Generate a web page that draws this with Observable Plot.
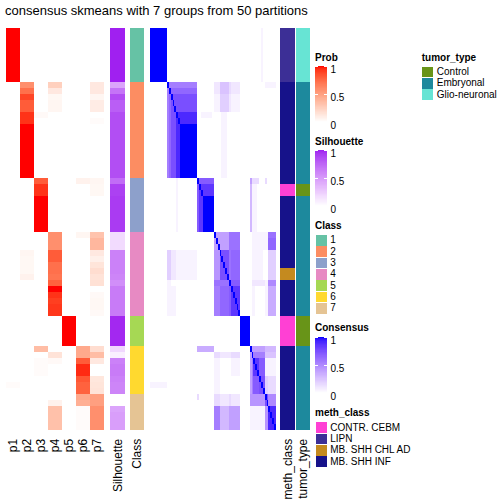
<!DOCTYPE html>
<html><head><meta charset="utf-8">
<script src="https://cdn.jsdelivr.net/npm/d3@7"></script>
<script src="https://cdn.jsdelivr.net/npm/@observablehq/plot@0.6"></script>
<style>
body{margin:0;background:#fff;font-family:"Liberation Sans",Arial,Helvetica,sans-serif;}
#root{position:relative;width:504px;height:504px;overflow:hidden;background:#fff;}
.abs{position:absolute;}
.ttl{position:absolute;font-weight:bold;font-size:10px;line-height:10px;white-space:nowrap;color:#000;}
.item{position:absolute;display:flex;align-items:center;font-size:10px;line-height:10px;white-space:nowrap;}
.sq{width:11px;height:10.7px;margin-right:3.5px;}
svg{overflow:visible;}
</style></head><body><div id="root"></div>
<script>
// ---------------- data ----------------
const titleText = "consensus skmeans with 7 groups from 50 partitions";
const probCols = ["p1","p2","p3","p4","p5","p6","p7"];
// membership probabilities per sample (67 samples, top to bottom), grouped by class blocks
const p1 = [1,1,1,1,1,1,1,1,1,
  0,0,0,0,0,0,0,0,0,0,0,0,0,0,0,0,
  0,0,0,0,0,0,0,0,0,
  0,0,0,0,0,0,0,0,0,0,0,0,0,0,
  0,0,0,0,0,
  0,0,0,0,0,0,0.02,0,
  0,0,0,0,0,0];
const p2 = [0,0,0,0,0,0,0,0,0,
  0.58,0.72,0.88,0.80,0.80,0.93,0.93,1,1,1,1,1,1,1,1,1,
  0,0,0,0,0,0,0,0,0,
  0,0,0,0.05,0.04,0.04,0.04,0.07,0,0,0,0,0,0,
  0,0,0,0,0,
  0,0,0,0,0,0,0,0,
  0,0,0,0,0,0];
const p3 = [0,0,0,0,0,0,0,0,0,
  0,0,0,0,0,0.03,0,0,0,0,0,0,0,0,0,0,
  0.8,0.93,0.93,1,1,1,1,1,1,
  0,0,0,0,0,0,0,0,0,0,0,0,0,0,
  0,0,0,0,0,
  0.35,0,0.02,0.02,0.02,0,0,0,
  0,0,0,0,0,0];
const p4 = [0,0,0,0,0,0,0,0,0,
  0.25,0.12,0.04,0.05,0.05,0,0,0,0,0,0,0,0,0,0,0,
  0,0,0,0,0,0,0,0,0,
  0.58,0.58,0.58,0.8,0.8,0.72,0.72,0.7,0.78,1,0.93,0.9,0.92,0.92,
  0,0,0,0,0,
  0,0.15,0.03,0,0,0,0,0,
  0,0.07,0.33,0.33,0.33,0.33];
const p5 = [0,0,0,0,0,0,0,0,0,
  0,0,0,0,0,0,0,0,0,0,0,0,0,0,0,0,
  0,0,0,0,0,0,0,0,0,
  0,0,0,0,0,0,0,0,0,0,0,0,0,0,
  1,1,1,1,1,
  0,0,0,0,0,0,0,0,
  0,0,0,0,0,0];
const p6 = [0,0,0,0,0,0,0,0,0,
  0,0,0,0,0,0,0,0,0,0,0,0,0,0,0,0,
  0.07,0,0,0,0,0,0,0,0,
  0.05,0,0,0,0,0,0,0,0,0,0,0,0,0,
  0,0,0,0,0,
  0.45,0.45,0.8,0.95,0.95,0.82,0.78,0.78,
  0.45,0.42,0.02,0.02,0.02,0.02];
const p7 = [0,0,0,0,0,0,0,0,0,
  0.12,0.12,0.05,0.10,0.10,0,0.02,0,0,0,0,0,0,0,0,0,
  0.05,0.04,0.04,0,0,0,0,0,0,
  0.32,0.38,0.38,0.12,0.08,0.14,0.18,0.15,0.16,0,0.03,0.04,0.04,0.03,
  0,0,0,0,0,
  0.18,0.35,0.12,0,0,0.13,0.14,0.15,
  0.5,0.5,0.58,0.58,0.58,0.58];
const silhouette = [1,1,1,1,1,1,1,1,1,
  0.45,0.68,0.85,0.78,0.78,0.85,0.85,0.85,0.85,0.85,0.85,0.85,0.85,0.85,0.85,0.85,
  0.72,0.9,0.9,0.92,0.92,0.92,0.92,0.92,0.92,
  0.18,0.18,0.18,0.62,0.62,0.62,0.62,0.6,0.56,0.65,0.65,0.65,0.65,0.65,
  0.98,0.98,0.98,0.98,0.98,
  0.2,0.08,0.62,0.65,0.65,0.62,0.6,0.6,
  0,0,0.45,0.48,0.48,0.48];
const classOfSample = "111111111"+"2222222222222222"+"333333333"+"44444444444444"+"55555"+"66666666"+"777777";
const classNames = ["1","2","3","4","5","6","7"];
const classColors = ["#66C2A5","#FC8D62","#8DA0CB","#E78AC3","#A6D854","#FFD92F","#E5C494"];
// meth_class codes: L = LIPN, I = MB. SHH INF, C = CONTR. CEBM, A = MB. SHH CHL AD
const methCodes = "LLLLLLLLL"+"IIIIIIIIIIIIIIII"+"ICCIIIIII"+"IIIIIIAAIIIIII"+"CCCCC"+"IIIIIIII"+"IIIIII";
const methCodeNames = {C:"CONTR. CEBM", L:"LIPN", A:"MB. SHH CHL AD", I:"MB. SHH INF"};
const methNames = ["CONTR. CEBM","LIPN","MB. SHH CHL AD","MB. SHH INF"];
const methColors = ["#FF40D4","#3C2F96","#C48A1F","#16128A"];
// tumor_type codes: G = Glio-neuronal, E = Embryonal, C = Control
const tumorCodes = "GGGGGGGGG"+"EEEEEEEEEEEEEEEE"+"ECCEEEEEE"+"EEEEEEEEEEEEEE"+"CCCCC"+"EEEEEEEE"+"EEEEEE";
const tumorCodeNames = {C:"Control", E:"Embryonal", G:"Glio-neuronal"};
const tumorNames = ["Control","Embryonal","Glio-neuronal"];
const tumorColors = ["#689418","#1D899D","#67E4D4"];
// consensus matrix rows; one char per cell, level/20 with "0123456789abcdefghijk"
const consensusLevels = "0123456789abcdefghijk";
const consensusRows = [
"kkkkkkkkk 0000000000000000 000000000 00000000000000 00000 00000010 000000",
"kkkkkkkkk 0000000000000000 000000000 00000000000000 00000 00000010 000000",
"kkkkkkkkk 0000000000000000 000000000 00000000000000 00000 00000010 000000",
"kkkkkkkkk 0000000000000000 000000000 00000000000000 00000 00000010 000000",
"kkkkkkkkk 0000000000000000 000000000 00000000000000 00000 00000010 000000",
"kkkkkkkkk 0000000000000000 000000000 00000000000000 00000 00000010 000000",
"kkkkkkkkk 0000000000000000 000000000 00000000000000 00000 00000010 000000",
"kkkkkkkkk 0000000000000000 000000000 00000000000000 00000 00000010 000000",
"kkkkkkkkk 0000000000000000 000000000 00000000000000 00000 00000010 000000",
"000000000 kbbbbbbbbbbbbbbb 000000000 22255555322222 00000 00000000 111111",
"000000000 bkdddddddddddddd 000000000 22255555322222 00000 00000000 000000",
"000000000 bdkfffffffffffff 000000000 11144444211111 00000 00000000 000000",
"000000000 bdfkffffffffffff 000000000 11144444211111 00000 00000000 000000",
"000000000 bdffkfffffffffff 000000000 11144444211111 00000 00000000 000000",
"000000000 bdfffkiiiiiiiiii 001111110 00001110000000 00000 00000000 000000",
"000000000 bdfffikiiiiiiiii 000000000 00001110000000 00000 00000000 000000",
"000000000 bdfffiikkkkkkkkk 000000000 00001110000000 00000 00000000 000000",
"000000000 bdfffiikkkkkkkkk 000000000 00001110000000 00000 00000000 000000",
"000000000 bdfffiikkkkkkkkk 000000000 00001110000000 00000 00000000 000000",
"000000000 bdfffiikkkkkkkkk 000000000 00001110000000 00000 00000000 000000",
"000000000 bdfffiikkkkkkkkk 000000000 00001110000000 00000 00000000 000000",
"000000000 bdfffiikkkkkkkkk 000000000 00001110000000 00000 00000000 000000",
"000000000 bdfffiikkkkkkkkk 000000000 00001110000000 00000 00000000 000000",
"000000000 bdfffiikkkkkkkkk 000000000 00001110000000 00000 00000000 000000",
"000000000 bdfffiikkkkkkkkk 000000000 00001110000000 00000 00000000 000000",
"000000000 0000010000000000 keeeeeeee 00000000000000 00000 83333000 300000",
"000000000 0000010000000000 ekhhhhhhh 00000000000000 00000 61110000 000000",
"000000000 0000010000000000 ehkhhhhhh 00000000000000 00000 61110000 000000",
"000000000 0000010000000000 ehhkkkkkk 00000000000000 00000 61110000 000000",
"000000000 0000010000000000 ehhkkkkkk 00000000000000 00000 61110000 000000",
"000000000 0000010000000000 ehhkkkkkk 00000000000000 00000 61110000 000000",
"000000000 0000010000000000 ehhkkkkkk 00000000000000 00000 61110000 000000",
"000000000 0000010000000000 ehhkkkkkk 00000000000000 00000 61110000 000000",
"000000000 0000010000000000 ehhkkkkkk 00000000000000 00000 61110000 000000",
"000000000 0000000000000000 000000000 k8888888cccccc 00000 01111111 11cccc",
"000000000 0000000000000000 000000000 8k888888cccccc 00000 01111111 11dddd",
"000000000 0000000000000000 000000000 88k88888cccccc 00000 01111111 11dddd",
"000000000 4422211111111111 000000000 999kffffcddddd 00000 01111110 004444",
"000000000 4422211111111111 000000000 999fkfffcddddd 00000 01111110 004444",
"000000000 4422211111111111 000000000 999ffkffcddddd 00000 01111110 004444",
"000000000 4422211111111111 000000000 999fffkfcddddd 00000 01111110 004444",
"000000000 4422211111111111 000000000 999ffffkcddddd 00000 01111110 004444",
"000000000 1100000000000000 000000000 cccccccckeeeee 00000 02222222 11aaaa",
"000000000 1111100000000000 000000000 bbbdddddekhhhh 00000 01100000 117777",
"000000000 1111100000000000 000000000 bbbdddddehkhhh 00000 01100000 117777",
"000000000 1111100000000000 000000000 bbbdddddehhkhh 00000 01100000 117777",
"000000000 1111100000000000 000000000 bbbdddddehhhkh 00000 01100000 117777",
"000000000 1111100000000000 000000000 bbbdddddehhhhk 00000 01100000 117777",
"000000000 0000000000000000 000000000 00000000000000 kkkkk 00000000 000000",
"000000000 0000000000000000 000000000 00000000000000 kkkkk 00000000 000000",
"000000000 0000000000000000 000000000 00000000000000 kkkkk 00000000 000000",
"000000000 0000000000000000 000000000 00000000000000 kkkkk 00000000 000000",
"000000000 0000000000000000 000000000 00000000000000 kkkkk 00000000 000000",
"000000000 0000000000000000 777777777 00000000000000 00000 k8888888 666666",
"000000000 0000000000000000 000000000 33322222233333 00000 8kbbbbbb 555555",
"000000000 0000000000000000 000000000 11100000011111 00000 8bkhheee 111111",
"000000000 0000000000000000 000000000 11100000011111 00000 8bhkheee 111111",
"000000000 0000000000000000 000000000 11100000011111 00000 8bhhkeee 111111",
"000000000 0000000000000000 000000000 11100000000000 00000 8beeekff 443333",
"111111111 0000000000000000 000000000 11100000000000 00000 8beeefkf 443333",
"000000000 0000000000000000 000000000 11100000000000 00000 8beeeffk 443333",
"000000000 0000000000000000 300000000 33322222322222 00000 99999999 kfaaaa",
"000000000 0000000000000000 000000000 33322222322222 00000 99999999 fkaaaa",
"000000000 0000000000000000 000000000 bbb66666888888 00000 11111111 99kiii",
"000000000 0000000000000000 000000000 bbb66666888888 00000 11111111 99ikii",
"000000000 0000000000000000 000000000 bbb66666888888 00000 11111111 99iiki",
"000000000 0000000000000000 000000000 bbb66666888888 00000 11111111 99iiik"
];

// ---------------- build ----------------
const FONT = '"Liberation Sans", Arial, Helvetica, sans-serif';
const N = silhouette.length;
const samples = d3.range(N);
const root = document.getElementById("root");
const HM_TOP = 22.7, HM_H = 412.3, MB = 69;

function place(el, left, top) {
  const d = document.createElement("div");
  d.className = "abs"; d.style.left = left + "px"; d.style.top = top + "px";
  d.appendChild(el); root.appendChild(d); return d;
}
const lab = d3.interpolateLab;

function strip(cols, data, color, width, showAxis) {
  return Plot.plot({
    width, height: HM_H + MB, marginTop: 0, marginBottom: MB, marginLeft: 0, marginRight: 0,
    x: {domain: cols, padding: 0, tickSize: 0, tickRotate: -90, tickPadding: 3, label: null, axis: showAxis ? "bottom" : null},
    y: {domain: samples, padding: 0, axis: null},
    color,
    style: {fontSize: "12px", fontFamily: FONT, background: "transparent", overflow: "visible", color: "#000"},
    marks: [Plot.cell(data, {x: "col", y: "sample", fill: "v", inset: 0, shapeRendering: "crispEdges"})]
  });
}

// title
const t = document.createElement("div");
t.textContent = titleText;
t.style.cssText = "position:absolute;left:5px;top:4px;font-size:13px;line-height:13px;white-space:nowrap;";
root.appendChild(t);

// probability heatmap
const probArrays = [p1,p2,p3,p4,p5,p6,p7];
const probData = [];
probCols.forEach((c, k) => samples.forEach(i => probData.push({sample: i, col: c, v: probArrays[k][i]})));
place(strip(probCols, probData, {type: "linear", domain: [0, 1], range: ["white", "red"], interpolate: lab}, 100, true), 5, HM_TOP);

// silhouette
const silData = samples.map(i => ({sample: i, col: "Silhouette", v: silhouette[i]}));
place(strip(["Silhouette"], silData, {type: "linear", domain: [0, 1], range: ["white", "#A020F0"], interpolate: lab}, 15, true), 110, HM_TOP);

// class
const classData = samples.map(i => ({sample: i, col: "Class", v: classOfSample[i]}));
place(strip(["Class"], classData, {type: "ordinal", domain: classNames, range: classColors}, 14, true), 130, HM_TOP);

// consensus
const consData = [];
consensusRows.forEach((row, i) => {
  const s = row.replace(/ /g, "");
  for (let j = 0; j < s.length; j++) consData.push({sample: i, col: j, v: consensusLevels.indexOf(s[j]) / 20});
});
place(strip(samples, consData, {type: "linear", domain: [0, 1], range: ["white", "blue"], interpolate: lab}, 126, false), 150, HM_TOP);

// meth_class
const methData = samples.map(i => ({sample: i, col: "meth_class", v: methCodeNames[methCodes[i]]}));
place(strip(["meth_class"], methData, {type: "ordinal", domain: methNames, range: methColors}, 15, true), 280, HM_TOP);

// tumor_type
const tumorData = samples.map(i => ({sample: i, col: "tumor_type", v: tumorCodeNames[tumorCodes[i]]}));
place(strip(["tumor_type"], tumorData, {type: "ordinal", domain: tumorNames, range: tumorColors}, 14, true), 296, HM_TOP);

// ---------------- legends ----------------
function title(text, left, top) {
  const d = document.createElement("div"); d.className = "ttl";
  d.textContent = text; d.style.left = left + "px"; d.style.top = top + "px"; root.appendChild(d);
}
const gradSteps = d3.range(0, 100).map(k => ({a: k / 100, b: (k + 1) / 100}));
function colorbar(endColor, top) {
  const svg = Plot.plot({
    width: 45, height: 56, marginTop: 0, marginBottom: 0, marginLeft: 0, marginRight: 33,
    x: {domain: [0, 1], axis: null},
    y: {domain: [0, 1], axis: null},
    color: {type: "linear", domain: [0, 1], range: ["white", endColor], interpolate: lab},
    style: {fontSize: "10px", fontFamily: FONT, background: "transparent", overflow: "visible", color: "#000"},
    marks: [
      Plot.rect(gradSteps, {x1: 0, x2: 1, y1: "a", y2: "b", fill: d => (d.a + d.b) / 2, shapeRendering: "crispEdges"}),
      Plot.ruleY([0, 0.5, 1], {x1: 0, x2: 0.25, stroke: "white", strokeWidth: 1}),
      Plot.ruleY([0, 0.5, 1], {x1: 0.75, x2: 1, stroke: "white", strokeWidth: 1}),
      Plot.text([0, 0.5, 1], {x: 1, y: d => d, text: d => String(d), dx: 3, dy: 3, textAnchor: "start", fill: "#000"})
    ]
  });
  place(svg, 315, top);
}
function swatches(names, colors, left, top) {
  names.forEach((n, k) => {
    const d = document.createElement("div"); d.className = "item";
    d.style.left = left + "px"; d.style.top = (top + k * 11.33) + "px"; d.style.height = "10.7px";
    const s = document.createElement("div"); s.className = "sq"; s.style.background = colors[k];
    const l = document.createElement("span"); l.textContent = n;
    d.appendChild(s); d.appendChild(l); root.appendChild(d);
  });
}
title("Prob", 315, 53);
colorbar("red", 65.7);
title("Silhouette", 315, 137);
colorbar("#A020F0", 149.5);
title("Class", 315, 220.5);
swatches(classNames, classColors, 315.7, 235);
title("Consensus", 315, 323);
colorbar("blue", 337.3);
title("meth_class", 315, 408);
swatches(methNames, methColors, 315.7, 422.3);
title("tumor_type", 421.7, 53);
swatches(tumorNames, tumorColors, 422.3, 66.7);
</script></body></html>
